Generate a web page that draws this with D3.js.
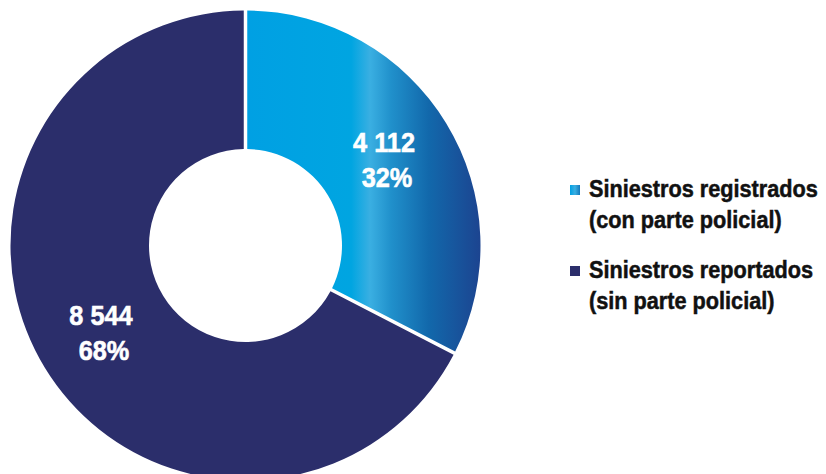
<!DOCTYPE html>
<html>
<head>
<meta charset="utf-8">
<script src="https://cdn.jsdelivr.net/npm/d3@7"></script>
<style>
  html, body { margin: 0; padding: 0; background: #ffffff; }
  svg { display: block; }
  text { font-family: "Liberation Sans Narrow", "Arial Narrow", "Liberation Sans", sans-serif; font-weight: bold; }
</style>
</head>
<body>
<svg id="chart" width="826" height="474"></svg>
<script>
// Siniestros: registrados vs. reportados
const categories = ["Siniestros registrados", "Siniestros reportados"];
const subtitles = ["(con parte policial)", "(sin parte policial)"];
const values = [4112, 8544];
const sliceColors = ["url(#blueGrad)", "#2b2e6b"];
const legendColors = ["url(#legendGrad)", "#2b2e6b"];

const W = 826, H = 474;
const cx = 245.5, cy = 245.5;
const outerR = 235, innerR = 96.5;

const svg = d3.select("#chart");
const defs = svg.append("defs");

// horizontal shading across the blue slice
const grad = defs.append("linearGradient")
  .attr("id", "blueGrad")
  .attr("gradientUnits", "userSpaceOnUse")
  .attr("x1", 0).attr("y1", 0).attr("x2", outerR).attr("y2", 0);
[
  [0, "#00a0e3"],
  [0.45, "#00a5e1"],
  [0.53, "#3aafe2"],
  [0.62, "#2090cb"],
  [0.78, "#1268ab"],
  [1, "#1c4490"]
].forEach(([o, c]) => grad.append("stop").attr("offset", o).attr("stop-color", c));

const lgrad = defs.append("linearGradient")
  .attr("id", "legendGrad")
  .attr("x1", 0).attr("y1", 0).attr("x2", 1).attr("y2", 0);
[
  [0, "#00a0e3"],
  [0.5, "#3aafe2"],
  [1, "#1478bb"]
].forEach(([o, c]) => lgrad.append("stop").attr("offset", o).attr("stop-color", c));

const fmt = d3.formatLocale({ decimal: ",", thousands: " ", grouping: [3], currency: ["", ""] }).format(",d");
const total = d3.sum(values);

// condensed lettering: measure a reference string and derive a horizontal squeeze
const probe = svg.append("text").attr("font-size", 24).text(categories[0]);
const probeW = probe.node().getComputedTextLength();
probe.remove();
const k = Math.min(1, 229 / probeW);

const gap = 3.5;
const pie = d3.pie().sort(null).value(d => d).padAngle(gap / outerR);
const arc = d3.arc().innerRadius(innerR).outerRadius(outerR).padRadius(outerR);
const labelArc = d3.arc().innerRadius((innerR + outerR) / 2).outerRadius((innerR + outerR) / 2);

const g = svg.append("g").attr("transform", `translate(${cx},${cy})`);
const arcs = pie(values);

g.selectAll("path.slice")
  .data(arcs)
  .join("path")
  .attr("class", "slice")
  .attr("d", arc)
  .attr("fill", (d, i) => sliceColors[i]);

const labels = g.selectAll("g.lbl")
  .data(arcs)
  .join("g")
  .attr("class", "lbl")
  .attr("transform", d => `translate(${labelArc.centroid(d)}) scale(${k},1)`);

labels.append("text")
  .attr("text-anchor", "middle")
  .attr("x", -3 / k)
  .attr("y", -7)
  .attr("fill", "#ffffff")
  .attr("stroke", "#ffffff")
  .attr("stroke-width", 0.6)
  .attr("font-size", 28)
  .text(d => fmt(d.data));

labels.append("text")
  .attr("text-anchor", "middle")
  .attr("x", 0)
  .attr("y", 28)
  .attr("fill", "#ffffff")
  .attr("stroke", "#ffffff")
  .attr("stroke-width", 0.6)
  .attr("font-size", 28)
  .text(d => Math.round(d.data / total * 100) + "%");

// legend
const legend = svg.append("g").attr("transform", "translate(570,0)");
const rows = legend.selectAll("g.row")
  .data(categories)
  .join("g")
  .attr("class", "row")
  .attr("transform", (d, i) => `translate(0,${185 + i * 81})`);

rows.append("rect")
  .attr("x", 0).attr("y", 0)
  .attr("width", 10).attr("height", 10)
  .attr("fill", (d, i) => legendColors[i]);

const txt = rows.append("g").attr("transform", `translate(19,0) scale(${k},1)`);

txt.append("text")
  .attr("x", 0).attr("y", 12)
  .attr("font-size", 24)
  .attr("fill", "#111111")
  .attr("stroke", "#111111")
  .attr("stroke-width", 0.5)
  .text(d => d);

txt.append("text")
  .attr("x", 0).attr("y", 43)
  .attr("font-size", 24)
  .attr("fill", "#111111")
  .attr("stroke", "#111111")
  .attr("stroke-width", 0.5)
  .text((d, i) => subtitles[i]);
</script>
</body>
</html>
